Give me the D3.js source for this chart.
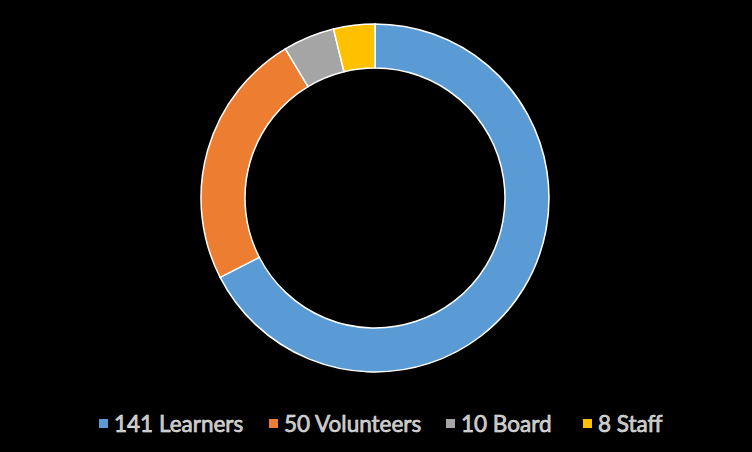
<!DOCTYPE html>
<html>
<head>
<meta charset="utf-8">
<script src="https://cdn.jsdelivr.net/npm/d3@7"></script>
<style>
  html, body { margin: 0; padding: 0; background: #000; }
  svg { display: block; }
</style>
</head>
<body>
<svg id="chart" width="752" height="452"></svg>
<script>
const categories = ["Learners", "Volunteers", "Board", "Staff"];
const counts = [141, 50, 10, 8];
const colors = ["#5B9BD5", "#ED7D31", "#A5A5A5", "#FFC000"];

const svg = d3.select("#chart");
const cx = 375, cy = 198;
const outerR = 174, innerR = 130;

const pie = d3.pie().sort(null).value(d => d.value);
const arc = d3.arc().innerRadius(innerR).outerRadius(outerR);

const data = categories.map((c, i) => ({ name: c, value: counts[i], color: colors[i] }));

const g = svg.append("g").attr("transform", `translate(${cx},${cy})`);
g.selectAll("path")
  .data(pie(data))
  .join("path")
    .attr("d", arc)
    .attr("fill", d => d.data.color)
    .attr("stroke", "#fff")
    .attr("stroke-width", 1.5);

// legend
const legendX = [99, 269, 446, 583];
const legend = svg.append("g").attr("class", "legend");
data.forEach((d, i) => {
  const item = legend.append("g").attr("transform", `translate(${legendX[i]},424)`);
  item.append("rect")
    .attr("x", 0).attr("y", -5)
    .attr("width", 9).attr("height", 9)
    .attr("fill", d.color);
  item.append("text")
    .attr("x", 15).attr("y", 0)
    .attr("dy", "0.36em")
    .attr("font-family", "Lato, 'Open Sans', sans-serif")
    .attr("font-size", 22.5)
    .attr("fill", "#bfbfbf")
    .attr("stroke", "#e8e8e8")
    .attr("stroke-width", 0.6)
    .text(`${d.value} ${d.name}`);
});
</script>
</body>
</html>
